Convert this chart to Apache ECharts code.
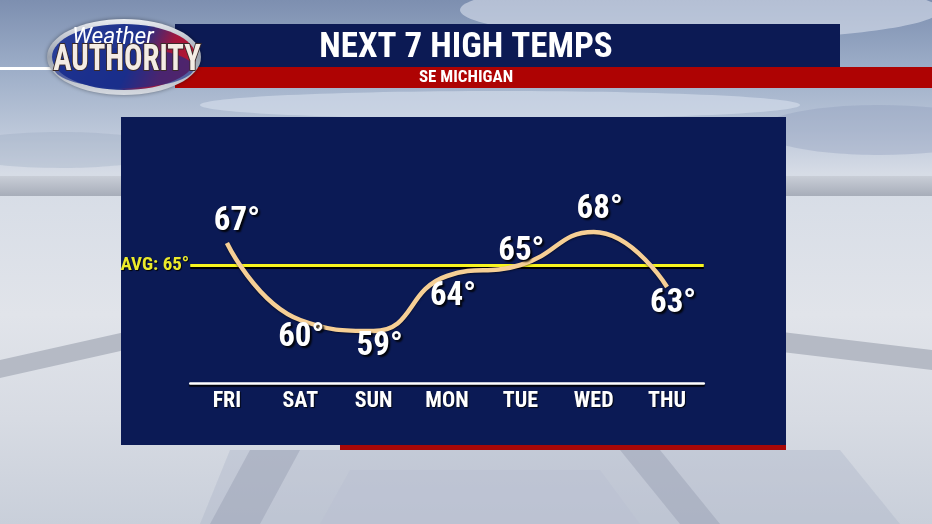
<!DOCTYPE html>
<html>
<head>
<meta charset="utf-8">
<script src="https://cdn.jsdelivr.net/npm/echarts@6/dist/echarts.min.js"></script>
<style>
html,body{margin:0;padding:0;width:932px;height:524px;overflow:hidden;}
#c{width:932px;height:524px;}
</style>
</head>
<body>
<div id="c"></div>
<script>
// ---- data ----
const days = ['FRI', 'SAT', 'SUN', 'MON', 'TUE', 'WED', 'THU'];
const highs = [67, 60, 59, 64, 65, 68, 63];
const avgHigh = 65;
const titleText = 'NEXT 7 HIGH TEMPS';
const subText = 'SE MICHIGAN';

// ---- styling ----
const COND = "'Roboto Condensed','Open Sans Condensed',sans-serif";
const labelOffsets = [[10, -21], [1, 18], [6, 16], [6, 21], [1, -13], [6, -22], [6, 17]];

const chart = echarts.init(document.getElementById('c'), null, {renderer: 'canvas'});

const seriesData = highs.map((v, i) => ({
  value: v,
  label: {offset: labelOffsets[i]}
}));

const option = {
  animation: false,
  backgroundColor: 'transparent',
  graphic: [
    // sky / studio background
    {type: 'rect', z: -10, shape: {x: 0, y: 0, width: 932, height: 524},
     style: {fill: new echarts.graphic.LinearGradient(0, 0, 0, 1, [
       {offset: 0, color: '#7d8fb0'},
       {offset: 0.12, color: '#9aabc6'},
       {offset: 0.25, color: '#bcc7d9'},
       {offset: 0.33, color: '#d6dce6'},
       {offset: 0.6, color: '#e1e4ea'},
       {offset: 0.8, color: '#d7dbe3'},
       {offset: 1, color: '#c9cfda'}
     ])}},
    // clouds-ish light patches
    {type: 'ellipse', z: -9, shape: {cx: 700, cy: 10, rx: 240, ry: 30}, style: {fill: 'rgba(225,232,242,0.55)'}},
    {type: 'ellipse', z: -9, shape: {cx: 500, cy: 105, rx: 300, ry: 14}, style: {fill: 'rgba(215,223,236,0.6)'}},
    {type: 'ellipse', z: -9, shape: {cx: 880, cy: 130, rx: 120, ry: 25}, style: {fill: 'rgba(140,155,185,0.35)'}},
    {type: 'ellipse', z: -9, shape: {cx: 60, cy: 150, rx: 110, ry: 18}, style: {fill: 'rgba(150,165,190,0.3)'}},
    // side rails
    {type: 'rect', z: -8, shape: {x: 0, y: 176, width: 125, height: 20},
     style: {fill: new echarts.graphic.LinearGradient(0, 0, 0, 1, [{offset: 0, color: '#c9ced7'}, {offset: 1, color: '#a7adb9'}])}},
    {type: 'rect', z: -8, shape: {x: 782, y: 176, width: 150, height: 20},
     style: {fill: new echarts.graphic.LinearGradient(0, 0, 0, 1, [{offset: 0, color: '#c9ced7'}, {offset: 1, color: '#a7adb9'}])}},
    {type: 'polygon', z: -8, shape: {points: [[0, 360], [125, 332], [125, 350], [0, 378]]}, style: {fill: '#b5bac5'}},
    {type: 'polygon', z: -8, shape: {points: [[782, 332], [932, 350], [932, 370], [782, 352]]}, style: {fill: '#b5bac5'}},
    // stage in the lower middle
    {type: 'polygon', z: -8, shape: {points: [[230, 450], [840, 450], [900, 524], [200, 524]]}, style: {fill: 'rgba(170,178,198,0.35)'}},
    {type: 'polygon', z: -8, shape: {points: [[250, 450], [300, 450], [260, 524], [210, 524]]}, style: {fill: 'rgba(150,158,178,0.45)'}},
    {type: 'polygon', z: -8, shape: {points: [[620, 450], [660, 450], [720, 524], [680, 524]]}, style: {fill: 'rgba(150,158,178,0.45)'}},
    {type: 'polygon', z: -8, shape: {points: [[350, 470], [600, 470], [640, 524], [320, 524]]}, style: {fill: 'rgba(185,192,210,0.5)'}},
    // header bars
    {type: 'rect', z: -5, shape: {x: 0, y: 67, width: 60, height: 3}, style: {fill: '#ffffff'}},
    {type: 'rect', z: -5, shape: {x: 175, y: 24, width: 665, height: 43}, style: {fill: '#0c1a54'}},
    {type: 'rect', z: -5, shape: {x: 175, y: 67, width: 757, height: 21}, style: {fill: '#ae0303'}},
    {type: 'text', z: -3, style: {x: 466, y: 48, text: titleText, fill: '#ffffff', font: "bold 35px " + COND, align: 'center', verticalAlign: 'middle'}},
    {type: 'text', z: -3, style: {x: 466, y: 78, text: subText, fill: '#ffffff', font: "bold 17px " + COND, align: 'center', verticalAlign: 'middle'}},
    // logo
    {type: 'ellipse', z: -4, shape: {cx: 124, cy: 57, rx: 77, ry: 38},
     style: {fill: new echarts.graphic.LinearGradient(0, 0, 0, 1, [{offset: 0, color: '#e9ecf1'}, {offset: 0.5, color: '#9ba2ae'}, {offset: 1, color: '#d5d9e0'}]),
             shadowColor: 'rgba(0,0,0,0.4)', shadowBlur: 4}},
    {type: 'ellipse', z: -4, shape: {cx: 124, cy: 57, rx: 72, ry: 33},
     style: {fill: new echarts.graphic.LinearGradient(0, 0, 1, 1, [{offset: 0, color: '#2a3f9a'}, {offset: 0.55, color: '#1d318a'}, {offset: 0.75, color: '#a4163c'}, {offset: 1, color: '#c0142a'}])}},
    {type: 'ellipse', z: -4, shape: {cx: 124, cy: 68, rx: 70, ry: 20},
     style: {fill: 'rgba(25,45,140,0.65)'}},
    {type: 'text', z: -3, x: 113, y: 38, scaleX: 0.95, style: {x: 0, y: 0, text: 'Weather', fill: '#ffffff', font: "italic 24px Roboto, sans-serif", align: 'center', verticalAlign: 'middle'}},
    {type: 'text', z: -3, x: 127, y: 61, scaleX: 0.85, style: {x: 0, y: 0, text: 'AUTHORITY', fill: '#f4ece4', font: "bold 36px " + COND, align: 'center', verticalAlign: 'middle',
      stroke: '#3a2a2a', lineWidth: 2, shadowColor: 'rgba(0,0,0,0.6)', shadowBlur: 2}},
    // chart panel
    {type: 'rect', z: -5, shape: {x: 340, y: 440, width: 446, height: 10}, style: {fill: '#a80808'}},
    {type: 'rect', z: -5, shape: {x: 121, y: 117, width: 665, height: 328}, style: {fill: '#0b1a55'}}
  ],
  grid: {left: 190.25, right: 228.25, top: 210, bottom: 149, containLabel: false},
  xAxis: {
    type: 'category', data: days, boundaryGap: true, offset: 8,
    axisLine: {show: true, onZero: false, lineStyle: {color: '#ffffff', width: 2.5, shadowColor: 'rgba(0,0,0,0.9)', shadowOffsetY: 2, shadowBlur: 1}},
    axisTick: {show: false},
    axisLabel: {color: '#ffffff', fontFamily: COND, fontWeight: 'bold', fontSize: 22, margin: 7,
      textShadowColor: 'rgba(0,0,0,0.8)', textShadowOffsetX: 1, textShadowOffsetY: 1, textShadowBlur: 1}
  },
  yAxis: {type: 'value', min: 55, max: 70, show: false, splitLine: {show: false}},
  series: [{
    type: 'line',
    data: seriesData,
    smooth: 0.5,
    symbol: 'circle', symbolSize: 1, showSymbol: true,
    itemStyle: {color: 'rgba(0,0,0,0)'},
    lineStyle: {color: '#f6cf95', width: 4.5, shadowColor: 'rgba(0,0,0,0.5)', shadowBlur: 2, shadowOffsetY: 1},
    z: 3,
    label: {
      show: true, position: 'inside',
      formatter: p => p.value + '°',
      color: '#ffffff', fontFamily: COND, fontWeight: 'bold', fontSize: 33,
      textShadowColor: 'rgba(0,0,0,0.9)', textShadowOffsetX: 2, textShadowOffsetY: 2, textShadowBlur: 2
    },
    markLine: {
      silent: true, symbol: 'none', z: 2,
      lineStyle: {color: '#f7f51e', width: 3, type: 'solid', opacity: 1, shadowColor: 'rgba(0,0,0,1)', shadowOffsetY: 2, shadowBlur: 0},
      label: {show: true, position: 'start', distance: 1, formatter: 'AVG: ' + avgHigh + '°',
        color: '#ecea2c', fontFamily: COND, fontWeight: 'bold', fontSize: 19,
        textShadowColor: 'rgba(0,0,0,0.9)', textShadowOffsetX: 1, textShadowOffsetY: 1, textShadowBlur: 1},
      data: [{yAxis: avgHigh}]
    }
  }]
};
chart.setOption(option);
</script>
</body>
</html>
